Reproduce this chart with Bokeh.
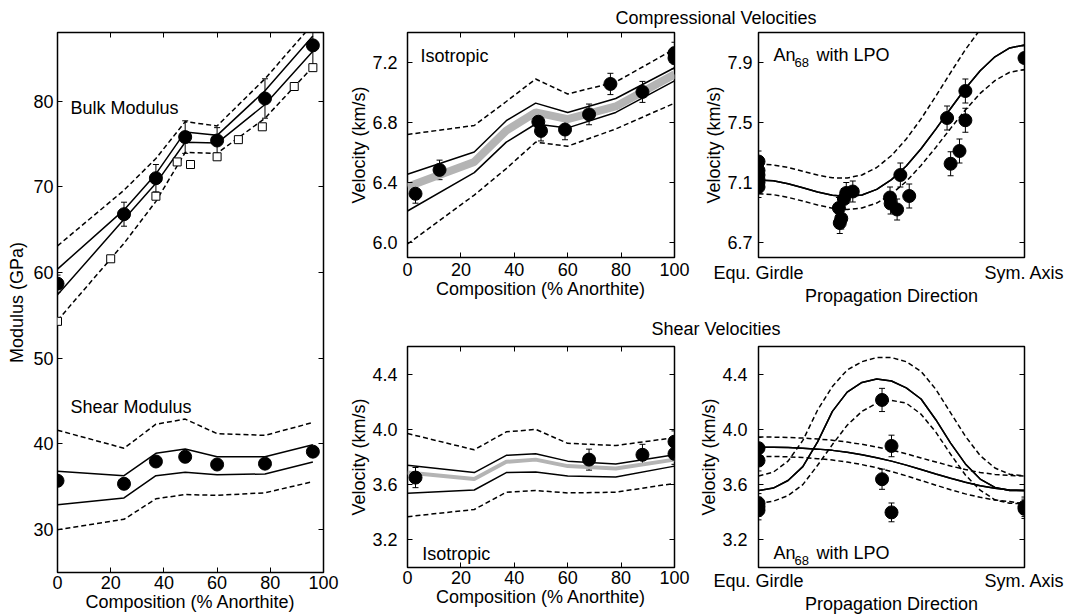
from bokeh.plotting import figure
from bokeh.models import (Range1d, LinearAxis, FixedTicker, PrintfTickFormatter,
                          Whisker, TeeHead, ColumnDataSource, Label)
from bokeh.layouts import row, column
from bokeh.embed import file_html
from bokeh.resources import INLINE
from bokeh.core.properties import value

FONT = "Liberation Sans"
FS = "18px"

# ---------------- titles / labels ----------------
TITLE_P = "Compressional Velocities"
TITLE_S = "Shear Velocities"
XLABEL_COMP = "Composition (% Anorthite)"
XLABEL_DIR = "Propagation Direction"
YLABEL_MOD = "Modulus (GPa)"
YLABEL_VEL = "Velocity (km/s)"
DIR_TICK_LABELS = {0: "Equ. Girdle", 90: "Sym. Axis"}

comp_ticks = [0, 20, 40, 60, 80, 100]
mod_ticks = [30, 40, 50, 60, 70, 80]
vp_iso_ticks = [6.0, 6.4, 6.8, 7.2]
vp_lpo_ticks = [6.7, 7.1, 7.5, 7.9]
vs_ticks = [3.2, 3.6, 4.0, 4.4]
dir_ticks = [0, 90]

# ---------------- left panel: moduli ----------------
comp_nodes_mod = [0, 25, 37, 48, 60, 78, 96]
bulk_upper_dash = [63.1, 69.6, 73.3, 77.6, 77.1, 82.6, 89.0]
bulk_upper = [60.4, 67.3, 71.5, 76.4, 76.0, 81.2, 87.6]
bulk_lower = [57.4, 66.2, 70.4, 75.2, 75.1, 79.6, 85.8]
bulk_lower_dash = [54.4, 63.4, 68.3, 74.0, 73.9, 78.0, 84.0]
bulk_meas_comp = [0, 25, 37, 48, 60, 78, 96]
bulk_meas = [58.7, 66.8, 71.0, 75.8, 75.4, 80.3, 86.5]
bulk_meas_err = [1.0, 1.4, 1.6, 1.9, 1.5, 2.3, 3.0]
bulk_open_comp = [0, 20, 37, 45, 50, 60, 68, 77, 89, 96]
bulk_open = [54.3, 61.6, 68.9, 72.9, 72.6, 73.5, 75.5, 77.0, 81.7, 83.9]

shear_upper_dash = [41.6, 39.5, 42.3, 42.9, 41.2, 41.0, 42.5]
shear_upper = [36.8, 36.3, 38.9, 39.4, 38.5, 38.5, 39.9]
shear_lower = [32.9, 33.7, 36.3, 36.7, 36.4, 36.5, 37.9]
shear_lower_dash = [30.0, 31.2, 33.6, 34.1, 34.0, 34.3, 35.6]
shear_meas_comp = [0, 25, 37, 48, 60, 78, 96]
shear_meas = [35.7, 35.35, 37.95, 38.5, 37.6, 37.7, 39.1]

# ---------------- isotropic velocities ----------------
comp_nodes_vel = [0, 25, 37, 48, 60, 78, 100]
vp_iso_upper_dash = [6.72, 6.78, 6.94, 7.09, 6.99, 7.07, 7.29]
vp_iso_upper = [6.455, 6.603, 6.812, 6.929, 6.867, 6.96, 7.165]
vp_iso_mean = [6.371, 6.537, 6.746, 6.867, 6.823, 6.907, 7.121]
vp_iso_lower = [6.21, 6.466, 6.669, 6.79, 6.764, 6.867, 7.077]
vp_iso_lower_dash = [5.99, 6.316, 6.493, 6.669, 6.642, 6.757, 6.929]
vp_meas_comp = [3, 12, 49, 50, 59, 68, 76, 88, 100, 100]
vp_meas = [6.325, 6.484, 6.805, 6.744, 6.753, 6.854, 7.057, 7.004, 7.262, 7.23]
vp_meas_err = [0.063, 0.065, 0.068, 0.067, 0.068, 0.069, 0.071, 0.07, 0.073, 0.072]

vs_iso_upper_dash = [3.97, 3.852, 3.982, 4.0, 3.899, 3.883, 3.94]
vs_iso_upper = [3.741, 3.687, 3.812, 3.823, 3.77, 3.75, 3.816]
vs_iso_mean = [3.687, 3.64, 3.765, 3.781, 3.734, 3.717, 3.781]
vs_iso_lower = [3.538, 3.561, 3.687, 3.692, 3.663, 3.656, 3.734]
vs_iso_lower_dash = [3.368, 3.42, 3.545, 3.557, 3.54, 3.545, 3.609]
vs_meas_comp = [3, 68, 88, 100, 100]
vs_meas = [3.651, 3.781, 3.816, 3.911, 3.823]
vs_meas_err = [0.073, 0.076, 0.076, 0.078, 0.076]

# ---------------- An68 with LPO ----------------
angle = [0, 5, 10, 15, 20, 25, 30, 35, 40, 45, 50, 55, 60, 65, 70, 75, 80, 85, 90]
vp_lpo = [7.117, 7.111, 7.092, 7.065, 7.037, 7.015, 7.006, 7.017, 7.054, 7.119,
          7.21, 7.325, 7.456, 7.593, 7.727, 7.845, 7.938, 7.997, 8.017]
vp_lpo_upper = [7.224, 7.217, 7.20, 7.175, 7.15, 7.131, 7.13, 7.15, 7.20, 7.28,
                7.39, 7.524, 7.676, 7.833, 7.986, 8.12, 8.226, 8.293, 8.316]
vp_lpo_lower = [7.025, 7.019, 7.001, 6.976, 6.95, 6.929, 6.92, 6.93, 6.963, 7.023,
                7.107, 7.214, 7.334, 7.461, 7.584, 7.694, 7.779, 7.835, 7.853]
vp_lpo_meas_angle = [0, 0, 0, 0, 0, 0, 27.2, 27.5, 28.0, 28.9, 29.7, 31.9,
                     44.5, 44.7, 46.9, 48.0, 51.0, 63.8, 65.0, 68.0, 70.0, 70.0, 90]
vp_lpo_meas = [7.24, 7.18, 7.15, 7.12, 7.10, 7.07, 6.93, 6.83, 6.86, 6.99, 7.03, 7.04,
               7.00, 6.96, 6.92, 7.15, 7.01, 7.53, 7.225, 7.31, 7.71, 7.515, 7.93]
vp_lpo_meas_err = [0.07, 0.07, 0.07, 0.07, 0.07, 0.07, 0.07, 0.07, 0.07, 0.07, 0.07, 0.07,
                   0.07, 0.07, 0.07, 0.08, 0.08, 0.08, 0.08, 0.08, 0.08, 0.08, 0.08]

vs1_lpo = [3.557, 3.575, 3.63, 3.73, 3.91, 4.13, 4.27, 4.34, 4.365, 4.35,
           4.30, 4.22, 4.07, 3.90, 3.75, 3.64, 3.58, 3.557, 3.557]
vs1_lpo_upper = [3.663, 3.69, 3.77, 3.92, 4.14, 4.31, 4.43, 4.49, 4.52, 4.52,
                 4.49, 4.42, 4.29, 4.12, 3.95, 3.81, 3.72, 3.675, 3.663]
vs1_lpo_lower = [3.462, 3.48, 3.52, 3.60, 3.74, 3.89, 4.03, 4.13, 4.19, 4.21,
                 4.19, 4.11, 3.98, 3.82, 3.67, 3.56, 3.49, 3.465, 3.462]
vs2_lpo = [3.871, 3.870, 3.868, 3.864, 3.857, 3.848, 3.834, 3.817, 3.795, 3.77,
           3.741, 3.709, 3.677, 3.646, 3.617, 3.592, 3.573, 3.561, 3.557]
vs2_lpo_upper = [3.945, 3.944, 3.941, 3.937, 3.93, 3.921, 3.908, 3.892, 3.872, 3.85,
                 3.823, 3.793, 3.764, 3.735, 3.709, 3.688, 3.674, 3.666, 3.663]
vs2_lpo_lower = [3.805, 3.804, 3.801, 3.796, 3.788, 3.778, 3.763, 3.745, 3.722, 3.695,
                 3.664, 3.63, 3.596, 3.563, 3.533, 3.508, 3.489, 3.477, 3.462]
vs_lpo_meas_angle = [0, 0, 0, 0, 0, 41.8, 45.0, 41.8, 45.0, 90, 90]
vs_lpo_meas = [3.864, 3.774, 3.465, 3.44, 3.415, 4.213, 3.88, 3.639, 3.399, 3.44, 3.425]
vs_lpo_meas_err = [0.077, 0.075, 0.07, 0.07, 0.07, 0.084, 0.078, 0.073, 0.068, 0.07, 0.07]

GRAY = "#b4b4b4"
DASH = "5 3"


def style_axis(ax, standoff, ticks, fmt=None, show_labels=True, label_standoff=0):
    ax.ticker = FixedTicker(ticks=ticks)
    if fmt:
        ax.formatter = PrintfTickFormatter(format=fmt)
    ax.axis_line_color = None
    ax.major_tick_in = 5
    ax.major_tick_out = 0
    ax.minor_tick_line_color = None
    ax.major_tick_line_color = "black"
    ax.major_tick_line_width = 1
    ax.major_label_text_font = FONT
    ax.major_label_text_font_size = FS if show_labels else "0px"
    ax.major_label_text_color = "black" if show_labels else None
    ax.major_label_standoff = standoff
    ax.axis_label_text_font = FONT
    ax.axis_label_text_font_size = FS
    ax.axis_label_text_font_style = "normal"
    ax.axis_label_text_color = "black"
    ax.axis_label_standoff = label_standoff


def make_panel(width, height, xr, yr, bl, br, bt, bb, xticks, yticks, yfmt,
               xlabel, ylabel, xs, ys, top_ticks=True, xoverrides=None, yls=0):
    p = figure(width=width, height=height, x_range=Range1d(*xr), y_range=Range1d(*yr),
               output_backend="svg", toolbar_location=None,
               min_border_left=bl, min_border_right=br, min_border_top=bt, min_border_bottom=bb,
               background_fill_color="white", border_fill_color="white")
    p.grid.visible = False
    p.outline_line_color = "black"
    p.outline_line_width = 1.5
    xa = p.xaxis[0]
    ya = p.yaxis[0]
    style_axis(xa, xs, xticks)
    style_axis(ya, ys, yticks, yfmt, label_standoff=yls)
    xa.axis_label = xlabel
    ya.axis_label = ylabel
    if xoverrides:
        xa.major_label_overrides = xoverrides
    ra = LinearAxis()
    style_axis(ra, 0, yticks, show_labels=False)
    p.add_layout(ra, "right")
    if top_ticks:
        ta = LinearAxis()
        style_axis(ta, 0, xticks, show_labels=False)
        p.add_layout(ta, "above")
    return p


def errbars(p, x, y, e):
    src = ColumnDataSource(dict(base=x, lower=[a - b for a, b in zip(y, e)],
                                upper=[a + b for a, b in zip(y, e)]))
    p.add_layout(Whisker(source=src, base="base", lower="lower", upper="upper",
                         line_color="black", line_width=1,
                         upper_head=TeeHead(size=6, line_color="black", line_width=1),
                         lower_head=TeeHead(size=6, line_color="black", line_width=1)))


def dots(p, x, y):
    p.scatter(x, y, marker="circle", size=13, fill_color="black", line_color="black")


def band(p, x, up_d, up, lo, lo_d):
    p.line(x, up_d, line_color="black", line_width=1.5, line_dash=DASH)
    p.line(x, lo_d, line_color="black", line_width=1.5, line_dash=DASH)
    p.line(x, up, line_color="black", line_width=1.5)
    p.line(x, lo, line_color="black", line_width=1.5)


def label(p, x, y, text, size=FS, xo=0, yo=0):
    p.add_layout(Label(x=x, y=y, text=text, x_offset=xo, y_offset=yo,
                       text_font=FONT, text_font_size=size, text_color="black",
                       text_align="left", text_baseline="alphabetic"))


# ---------------- left: moduli (x 0..340, y 0..616) ----------------
pm = make_panel(340, 616, (0, 100), (25, 88), 57, 17, 32, 44,
                comp_ticks, mod_ticks, None, XLABEL_COMP, YLABEL_MOD, 3, 4, yls=3)
band(pm, comp_nodes_mod, bulk_upper_dash, bulk_upper, bulk_lower, bulk_lower_dash)
band(pm, comp_nodes_mod, shear_upper_dash, shear_upper, shear_lower, shear_lower_dash)
errbars(pm, bulk_meas_comp, bulk_meas, bulk_meas_err)
pm.scatter(bulk_open_comp, bulk_open, marker="square", size=8,
           fill_color="white", line_color="black", line_width=1)
dots(pm, bulk_meas_comp, bulk_meas)
dots(pm, shear_meas_comp, shear_meas)
label(pm, 4.9, 79.2, "Bulk Modulus")
label(pm, 4.9, 44.3, "Shear Modulus")


# ---------------- titles ----------------
def title_fig(text, height, ypos):
    t = figure(width=729, height=height, x_range=Range1d(0, 1), y_range=Range1d(0, height),
               output_backend="svg", toolbar_location=None,
               min_border_left=67, min_border_right=45, min_border_top=0, min_border_bottom=0,
               x_axis_location=None, y_axis_location=None,
               background_fill_color="white", border_fill_color="white")
    t.outline_line_color = None
    t.grid.visible = False
    t.text(x=[0.5], y=[ypos], text=[text], text_font=value(FONT), text_font_size=value(FS),
           text_align="center", text_baseline="middle", text_color="black")
    return t


t1 = title_fig(TITLE_P, 28, 11)
t2 = title_fig(TITLE_S, 20, 10)

# ---------------- compressional isotropic ----------------
p1 = make_panel(350, 290, (0, 100), (5.9, 7.4), 67, 16, 4, 61,
                comp_ticks, vp_iso_ticks, "%.1f", XLABEL_COMP, YLABEL_VEL, 5, 10)
p1.line(comp_nodes_vel, vp_iso_mean, line_color=GRAY, line_width=8)
band(p1, comp_nodes_vel, vp_iso_upper_dash, vp_iso_upper, vp_iso_lower, vp_iso_lower_dash)
errbars(p1, vp_meas_comp, vp_meas, vp_meas_err)
dots(p1, vp_meas_comp, vp_meas)
label(p1, 4.9, 7.246, "Isotropic")

# ---------------- compressional LPO ----------------
p2 = make_panel(379, 290, (0, 90), (6.6, 8.1), 68, 45, 4, 61,
                dir_ticks, vp_lpo_ticks, "%.1f", XLABEL_DIR, YLABEL_VEL, 5, 6,
                top_ticks=False, xoverrides=DIR_TICK_LABELS)
band(p2, angle, vp_lpo_upper, vp_lpo, vp_lpo, vp_lpo_lower)
errbars(p2, vp_lpo_meas_angle, vp_lpo_meas, vp_lpo_meas_err)
dots(p2, vp_lpo_meas_angle, vp_lpo_meas)
label(p2, 5.1, 7.953, "An")
label(p2, 5.1, 7.953, "68", size="13px", xo=21, yo=-8)
label(p2, 5.1, 7.953, "with LPO", xo=43)

# ---------------- shear isotropic ----------------
p3 = make_panel(350, 278, (0, 100), (3.0, 4.6), 67, 16, 8, 44,
                comp_ticks, vs_ticks, "%.1f", XLABEL_COMP, YLABEL_VEL, 3, 10)
p3.line(comp_nodes_vel, vs_iso_mean, line_color=GRAY, line_width=4)
band(p3, comp_nodes_vel, vs_iso_upper_dash, vs_iso_upper, vs_iso_lower, vs_iso_lower_dash)
errbars(p3, vs_meas_comp, vs_meas, vs_meas_err)
dots(p3, vs_meas_comp, vs_meas)
label(p3, 5.5, 3.097, "Isotropic")

# ---------------- shear LPO ----------------
p4 = make_panel(379, 278, (0, 90), (3.0, 4.6), 68, 45, 8, 44,
                dir_ticks, vs_ticks, "%.1f", XLABEL_DIR, YLABEL_VEL, 3, 11,
                top_ticks=False, xoverrides=DIR_TICK_LABELS)
band(p4, angle, vs1_lpo_upper, vs1_lpo, vs1_lpo, vs1_lpo_lower)
band(p4, angle, vs2_lpo_upper, vs2_lpo, vs2_lpo, vs2_lpo_lower)
errbars(p4, vs_lpo_meas_angle, vs_lpo_meas, vs_lpo_meas_err)
dots(p4, vs_lpo_meas_angle, vs_lpo_meas)
label(p4, 5.1, 3.108, "An")
label(p4, 5.1, 3.108, "68", size="13px", xo=21, yo=-8)
label(p4, 5.1, 3.108, "with LPO", xo=43)

layout = row(pm, column(t1, row(p1, p2), t2, row(p3, p4)))

open("out.html", "w").write(file_html(layout, INLINE))
